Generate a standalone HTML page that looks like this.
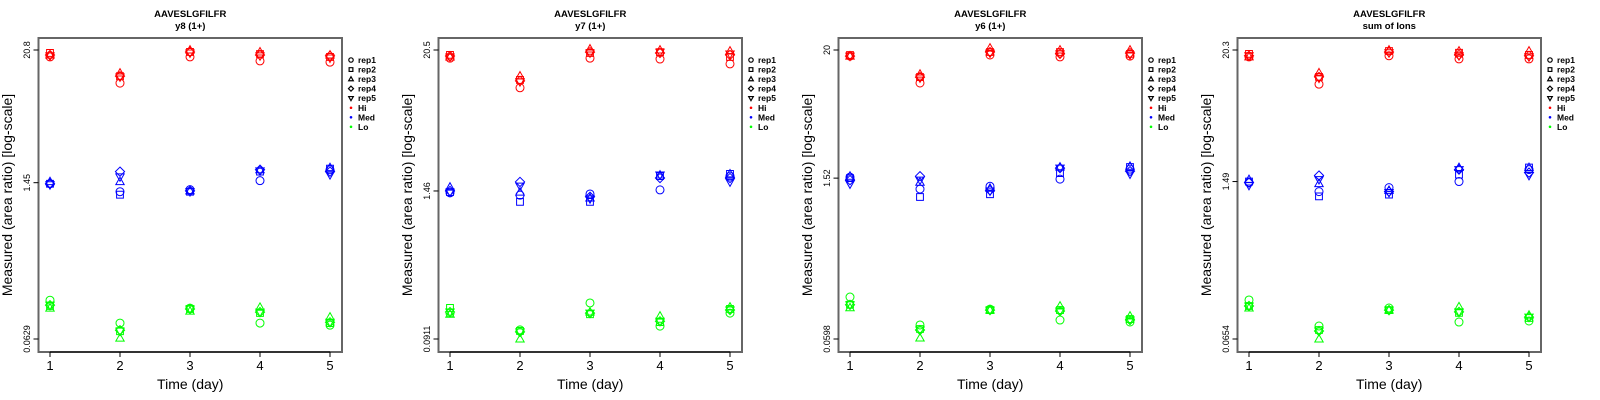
<!DOCTYPE html>
<html><head><meta charset="utf-8">
<style>
html,body{margin:0;padding:0;background:#fff;width:1600px;height:400px;overflow:hidden}
svg{display:block;font-family:"Liberation Sans",sans-serif}
</style></head>
<body>
<svg id="chart" width="1600" height="400" viewBox="0 0 1600 400" xmlns="http://www.w3.org/2000/svg"></svg>
<script>
// ---- data ----
const days = [1, 2, 3, 4, 5];
const reps = ["rep1", "rep2", "rep3", "rep4", "rep5"];
const levels = ["Hi", "Med", "Lo"];
const panelTitles = ["y8 (1+)", "y7 (1+)", "y6 (1+)", "sum of Ions"];
const peptide = "AAVESLGFILFR";
const axisMax = [20.8, 20.5, 20, 20.3];
const axisMin = [0.0629, 0.0911, 0.0598, 0.0654];
const axisMid = [1.45, 1.46, 1.52, 1.49];
const tickMaxLabels = ["20.8", "20.5", "20", "20.3"];
const tickMidLabels = ["1.45", "1.46", "1.52", "1.49"];
const tickMinLabels = ["0.0629", "0.0911", "0.0598", "0.0654"];

// values[panel][level][rep][day]
const p1Hi  = [[18.1,10.7,18.1,16.7,16.3],[19.6,12.3,20.0,19.2,18.1],[18.8,13.1,20.8,20.0,18.8],[18.8,12.3,20.0,18.8,18.5],[18.5,12.1,19.6,18.5,17.7]];
const p1Med = [[1.42,1.21,1.26,1.51,1.88],[1.42,1.14,1.21,1.81,1.92],[1.48,1.48,1.23,1.88,1.96],[1.42,1.81,1.23,1.88,1.81],[1.39,1.63,1.21,1.84,1.70]];
const p1Lo  = [[0.137,0.0866,0.117,0.0866,0.083],[0.122,0.0736,0.115,0.106,0.0866],[0.117,0.064,0.110,0.119,0.0977],[0.124,0.075,0.115,0.108,0.088],[0.124,0.0736,0.115,0.108,0.088]];
const p2Hi  = [[17.6,10.1,17.6,17.3,15.8],[18.7,11.7,19.4,19.7,18.0],[18.0,12.6,20.9,20.5,20.1],[18.3,11.5,19.7,19.4,18.7],[18.0,11.3,19.4,19.7,19.0]];
const p2Med = [[1.41,1.35,1.38,1.49,1.93],[1.43,1.19,1.19,1.93,2.01],[1.57,1.43,1.28,1.97,2.01],[1.46,1.73,1.31,1.86,1.86],[1.43,1.60,1.26,1.97,1.73]];
const p2Lo  = [[0.148,0.108,0.179,0.116,0.148],[0.163,0.106,0.145,0.125,0.160],[0.145,0.0911,0.151,0.140,0.166],[0.151,0.104,0.148,0.127,0.157],[0.151,0.104,0.148,0.127,0.157]];
const p3Hi  = [[17.7,10.3,18.1,17.4,17.7],[18.1,11.6,19.2,19.2,18.5],[17.7,12.3,20.8,20.0,20.0],[17.7,11.6,19.2,18.5,18.8],[17.7,11.4,18.8,18.5,18.1]];
const p3Med = [[1.55,1.22,1.29,1.49,1.82],[1.52,1.04,1.10,1.68,1.90],[1.58,1.40,1.24,1.90,1.93],[1.46,1.58,1.19,1.86,1.75],[1.35,1.46,1.17,1.86,1.65]];
const p3Lo  = [[0.139,0.0793,0.109,0.0876,0.0842],[0.119,0.0731,0.107,0.107,0.0893],[0.112,0.0610,0.107,0.116,0.0949],[0.119,0.0716,0.107,0.105,0.0876],[0.119,0.0716,0.107,0.105,0.0876]];
const p4Hi  = [[17.7,10.3,18.1,17.0,17.0],[18.8,11.9,19.9,19.2,18.4],[17.7,12.9,20.3,19.9,19.9],[18.1,11.9,19.5,18.4,18.1],[18.1,11.6,19.2,18.1,17.7]];
const p4Med = [[1.46,1.22,1.32,1.49,1.89],[1.49,1.11,1.15,1.71,1.97],[1.55,1.43,1.25,1.97,1.97],[1.46,1.68,1.22,1.89,1.78],[1.38,1.55,1.20,1.89,1.68]];
const p4Lo  = [[0.142,0.0846,0.121,0.0916,0.0935],[0.126,0.0782,0.116,0.110,0.0992],[0.121,0.0654,0.116,0.124,0.105],[0.126,0.0766,0.116,0.112,0.101],[0.126,0.0766,0.116,0.112,0.101]];
const panelData = [[p1Hi,p1Med,p1Lo],[p2Hi,p2Med,p2Lo],[p3Hi,p3Med,p3Lo],[p4Hi,p4Med,p4Lo]];

// ---- drawing ----
const NS = "http://www.w3.org/2000/svg";
const svg = document.getElementById("chart");
const colors = ["#ff0000", "#0000ff", "#00ff00"];
const offsets = [0, 400, 800, 1199];

function mk(tag, attrs, parent, text) {
  const e = document.createElementNS(NS, tag);
  for (const k in attrs) e.setAttribute(k, attrs[k]);
  if (text !== undefined) e.textContent = text;
  parent.appendChild(e);
  return e;
}

function markerPath(rep, cx, cy, r) {
  if (rep === 0) return null;
  if (rep === 1) return `M${cx-r*0.85},${cy-r*0.85}h${r*1.7}v${r*1.7}h${-r*1.7}Z`;
  if (rep === 2) return `M${cx},${cy-r*1.1}L${cx+r*1.05},${cy+r*0.75}L${cx-r*1.05},${cy+r*0.75}Z`;
  if (rep === 3) return `M${cx},${cy-r*1.15}L${cx+r*1.15},${cy}L${cx},${cy+r*1.15}L${cx-r*1.15},${cy}Z`;
  return `M${cx},${cy+r*1.1}L${cx+r*1.05},${cy-r*0.75}L${cx-r*1.05},${cy-r*0.75}Z`;
}

function drawMarker(g, rep, cx, cy, r, color, sw) {
  let m;
  if (rep === 0) m = mk("circle", {cx: cx, cy: cy, r: r, fill: "none", stroke: color, "stroke-width": sw}, g);
  else m = mk("path", {d: markerPath(rep, cx, cy, r), fill: "none", stroke: color, "stroke-width": sw}, g);
  return m;
}

for (let p = 0; p < 4; p++) {
  const ox = offsets[p];
  const g = mk("g", {}, svg);
  
  
  const left = ox + 38.5, right = ox + 342, top = 38, bottom = 352;
  const yTop = 50, yBot = 339;
  const lmax = Math.log(axisMax[p]), lmin = Math.log(axisMin[p]);
  const yScale = v => yTop + (lmax - Math.log(v)) / (lmax - lmin) * (yBot - yTop);
  const xScale = d => ox + 50 + (d - 1) * 70;
  const cxm = (left + right) / 2;

  const t1 = mk("text", {x: cxm, y: 17, "text-anchor": "middle", "font-size": "9.5", "font-weight": "bold"}, g, peptide);
  
  
  const t2 = mk("text", {x: cxm, y: 29, "text-anchor": "middle", "font-size": "9.5", "font-weight": "bold"}, g, panelTitles[p]);
  
  

  const box = mk("rect", {x: left, y: top, width: right - left, height: bottom - top, fill: "none", stroke: "#666", "stroke-width": 2}, g);
  
  

  // x axis
  const xa = mk("g", {}, g);
  
  
  mk("line", {x1: xScale(1), x2: xScale(5), y1: bottom, y2: bottom, stroke: "#000", "stroke-width": 1}, xa);
  days.forEach(d => {
    mk("line", {x1: xScale(d), x2: xScale(d), y1: bottom, y2: bottom + 5, stroke: "#000", "stroke-width": 1}, xa);
    const tl = mk("text", {x: xScale(d), y: 370, "text-anchor": "middle", "font-size": "13"}, xa, String(d));
    
    
  });
  const xt = mk("text", {x: cxm, y: 389, "text-anchor": "middle", "font-size": "14"}, g, "Time (day)");
  
  

  // y axis
  const ya = mk("g", {}, g);
  
  
  const yt = [[axisMax[p], tickMaxLabels[p]], [axisMid[p], tickMidLabels[p]], [axisMin[p], tickMinLabels[p]]];
  yt.forEach(([v, lab]) => {
    const y = yScale(v);
    mk("line", {x1: left - 5, x2: left, y1: y, y2: y, stroke: "#000", "stroke-width": 1}, ya);
    const tl = mk("text", {x: 0, y: 0, "text-anchor": "middle", "font-size": "9", transform: `translate(${ox + 30},${y}) rotate(-90)`}, ya, lab);
    
    
  });
  const ytt = mk("text", {x: 0, y: 0, "text-anchor": "middle", "font-size": "14", transform: `translate(${ox + 12},${195}) rotate(-90)`}, g, "Measured (area ratio) [log-scale]");
  
  

  // points
  for (let l = 0; l < 3; l++) {
    const sg = mk("g", {}, g);
    
    
    for (let r = 0; r < 5; r++) {
      for (let d = 0; d < 5; d++) {
        const v = panelData[p][l][r][d];
        const m = drawMarker(sg, r, xScale(days[d]), yScale(v), 4, colors[l], 1);
        
        
      }
    }
  }

  // legend
  const lg = mk("g", {}, g);
  
  
  const lx = ox + 350, ly0 = 60, dy = 9.55;
  reps.forEach((rname, i) => {
    const y = ly0 + i * dy;
    const e = mk("g", {}, lg);
    
    
    drawMarker(e, i, lx + 1, y, 2.2, "#000", 1.2);
    mk("text", {x: lx + 8, y: y + 3, "font-size": "8.5", "font-weight": "bold"}, e, rname);
  });
  levels.forEach((lev, i) => {
    const y = ly0 + (5 + i) * dy;
    const e = mk("g", {}, lg);
    
    
    mk("circle", {cx: lx + 1, cy: y, r: 1.3, fill: colors[i]}, e);
    mk("text", {x: lx + 8, y: y + 3, "font-size": "8.5", "font-weight": "bold"}, e, lev);
  });
}
</script>
</body></html>
